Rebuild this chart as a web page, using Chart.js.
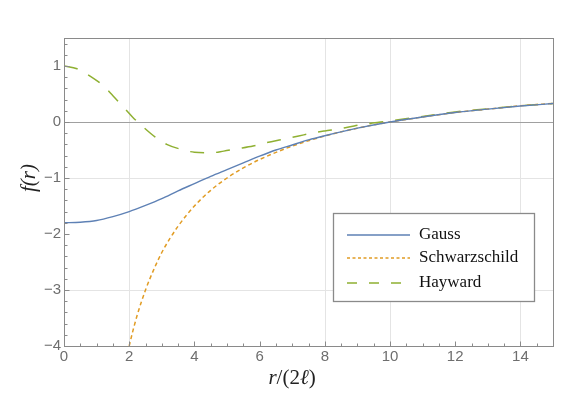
<!DOCTYPE html>
<html>
<head>
<meta charset="utf-8">
<script src="https://cdn.jsdelivr.net/npm/chart.js@4/dist/chart.umd.min.js"></script>
<style>
  html, body { margin: 0; padding: 0; background: #fff; }
  #wrap { width: 582px; height: 393px; }
</style>
</head>
<body>
<div id="wrap"><canvas id="chart" width="582" height="393"></canvas></div>
<script>
// values
const gaussX = [0, 0.5, 1, 1.5, 2, 2.5, 3, 3.5, 4, 4.5, 5, 5.5, 6, 6.5, 7, 7.5, 8, 9, 10, 11, 12, 13, 14, 15];
const gaussY = [-1.80, -1.79, -1.76, -1.69, -1.60, -1.49, -1.37, -1.23, -1.10, -0.97, -0.85, -0.73, -0.61, -0.50, -0.41, -0.32, -0.245, -0.11, 0.0, 0.09, 0.17, 0.23, 0.285, 0.33];

const schwX = [2, 2.1, 2.25, 2.5, 2.75, 3, 3.25, 3.5, 4, 4.5, 5, 5.5, 6, 7, 8, 9, 10, 11, 12, 13, 14, 15];
const schwY = [-4.0, -3.76, -3.44, -3.0, -2.64, -2.33, -2.08, -1.86, -1.5, -1.22, -1.0, -0.82, -0.67, -0.43, -0.25, -0.11, 0.0, 0.09, 0.17, 0.23, 0.29, 0.33];

const haywX = [0, 0.4, 0.8, 1.2, 1.5, 1.8, 2.1, 2.45, 2.8, 3.15, 3.6, 4.0, 4.5, 4.9, 5.3, 5.8, 6.2, 6.7, 7.2, 7.6, 8.0, 8.45, 8.9, 9.3, 9.8, 10.2, 11, 12, 13, 14, 15];
const haywY = [1.0, 0.95, 0.82, 0.65, 0.47, 0.28, 0.09, -0.10, -0.27, -0.40, -0.49, -0.54, -0.55, -0.52, -0.48, -0.43, -0.37, -0.31, -0.25, -0.20, -0.16, -0.12, -0.07, -0.03, 0.005, 0.035, 0.10, 0.18, 0.235, 0.29, 0.33];

const seriesNames = ["Gauss", "Schwarzschild", "Hayward"];

// axis ticks and grid
const xLabels = [0, 2, 4, 6, 8, 10, 12, 14];
const yLabels = [-4, -3, -2, -1, 0, 1];
const xGrid = [2, 8, 10, 14];
const yGrid = [-3, -1];

const BLUE = "#5e81b5", ORANGE = "#e19c24", GREEN = "#8fb032";
const SERIF = "'Liberation Serif', 'DejaVu Serif', serif";
const SANS = "'Liberation Sans', Arial, sans-serif";

function pts(xs, ys) {
  return xs.map((x, i) => ({ x: x, y: ys[i] }));
}

// grid lines + zero axis under the curves
const gridPlugin = {
  id: "gridPlugin",
  beforeDatasetsDraw(chart) {
    const ctx = chart.ctx, a = chart.chartArea;
    const xs = chart.scales.x, ys = chart.scales.y;
    ctx.save();
    ctx.lineWidth = 1;
    ctx.strokeStyle = "#e4e4e4";
    xGrid.forEach(v => {
      const px = Math.round(xs.getPixelForValue(v)) + 0.5;
      ctx.beginPath(); ctx.moveTo(px, a.top); ctx.lineTo(px, a.bottom); ctx.stroke();
    });
    yGrid.forEach(v => {
      const py = Math.round(ys.getPixelForValue(v)) + 0.5;
      ctx.beginPath(); ctx.moveTo(a.left, py); ctx.lineTo(a.right, py); ctx.stroke();
    });
    // y = 0 axis
    ctx.strokeStyle = "#a0a0a0";
    const py0 = Math.round(ys.getPixelForValue(0)) + 0.5;
    ctx.beginPath(); ctx.moveTo(a.left, py0); ctx.lineTo(a.right, py0); ctx.stroke();
    ctx.restore();
  }
};

// frame, inward ticks, axis titles, legend box
const framePlugin = {
  id: "framePlugin",
  afterDraw(chart) {
    const ctx = chart.ctx, a = chart.chartArea;
    const xs = chart.scales.x, ys = chart.scales.y;
    ctx.save();
    ctx.strokeStyle = "#8a8a8a";
    ctx.lineWidth = 1;
    const L = Math.round(a.left) + 0.5, R = Math.round(a.right) + 0.5;
    const T = Math.round(a.top) + 0.5, B = Math.round(a.bottom) + 0.5;
    ctx.strokeRect(L, T, R - L, B - T);

    // bottom ticks: major every 2, minor every 0.5
    for (let k = 0; k <= 30; k++) {
      const v = k * 0.5;
      const px = Math.round(xs.getPixelForValue(v)) + 0.5;
      const len = (k % 4 === 0) ? 5 : 3;
      ctx.beginPath(); ctx.moveTo(px, B); ctx.lineTo(px, B - len); ctx.stroke();
    }
    // left ticks: major every 1, minor every 0.2
    for (let k = 0; k <= 27; k++) {
      const v = -4 + k * 0.2;
      const py = Math.round(ys.getPixelForValue(v)) + 0.5;
      const len = (k % 5 === 0) ? 5 : 3;
      ctx.beginPath(); ctx.moveTo(L, py); ctx.lineTo(L + len, py); ctx.stroke();
    }

    // y title f(r)
    ctx.fillStyle = "#222";
    ctx.save();
    ctx.translate(29, 178);
    ctx.rotate(-Math.PI / 2);
    ctx.font = "italic 21px " + SERIF;
    ctx.textAlign = "center";
    ctx.textBaseline = "middle";
    ctx.fillText("f(r)", 0, 0);
    ctx.restore();

    // x title r/(2ℓ), mixed italic / roman
    const parts = [["r", true], ["/(2", false], ["ℓ", true], [")", false]];
    const fontOf = it => (it ? "italic " : "") + "21px " + SERIF;
    let w = 0;
    parts.forEach(p => { ctx.font = fontOf(p[1]); w += ctx.measureText(p[0]).width; });
    let cx = 292 - w / 2;
    ctx.textAlign = "left";
    ctx.textBaseline = "alphabetic";
    parts.forEach(p => {
      ctx.font = fontOf(p[1]);
      ctx.fillText(p[0], cx, 384);
      cx += ctx.measureText(p[0]).width;
    });

    // legend
    const bx = 333, by = 213, bw = 201, bh = 88;
    ctx.fillStyle = "#fff";
    ctx.fillRect(bx, by, bw, bh);
    ctx.strokeStyle = "#8a8a8a";
    ctx.lineWidth = 1.3;
    ctx.strokeRect(bx + 0.5, by + 0.5, bw, bh);
    const rows = [235, 258, 283];
    const legendDash = [[], [3, 2.5], [10, 12]];
    chart.data.datasets.forEach((ds, i) => {
      ctx.strokeStyle = ds.borderColor;
      ctx.lineWidth = 1.5;
      ctx.setLineDash(legendDash[i]);
      ctx.beginPath(); ctx.moveTo(347, rows[i]); ctx.lineTo(410, rows[i]); ctx.stroke();
      ctx.setLineDash([]);
      ctx.fillStyle = "#111";
      ctx.font = "17px " + SERIF;
      ctx.textBaseline = "middle";
      ctx.fillText(ds.label, 419, rows[i]);
    });
    ctx.restore();
  }
};

const fmt = v => (v < 0 ? "\u2212" + Math.abs(v) : String(v));

new Chart(document.getElementById("chart"), {
  type: "line",
  data: {
    datasets: [
      { label: seriesNames[0], data: pts(gaussX, gaussY), borderColor: BLUE, borderWidth: 1.4 },
      { label: seriesNames[1], data: pts(schwX, schwY), borderColor: ORANGE, borderWidth: 1.5, borderDash: [4, 3] },
      { label: seriesNames[2], data: pts(haywX, haywY), borderColor: GREEN, borderWidth: 1.5, borderDash: [14, 12] }
    ]
  },
  options: {
    responsive: false,
    animation: false,
    events: [],
    layout: { padding: { top: 38, right: 29, left: 0, bottom: 0 } },
    elements: {
      point: { radius: 0 },
      line: { cubicInterpolationMode: "monotone", fill: false }
    },
    plugins: { legend: { display: false }, tooltip: { enabled: false } },
    scales: {
      x: {
        type: "linear", min: 0, max: 15,
        afterFit: s => { s.height = 47; },
        afterBuildTicks: s => { s.ticks = xLabels.map(v => ({ value: v })); },
        grid: { display: false, drawTicks: false },
        border: { display: false },
        ticks: { padding: 2, color: "#6e6e6e", font: { family: SANS, size: 15 }, maxRotation: 0, callback: v => fmt(v) }
      },
      y: {
        type: "linear", min: -4, max: 1.5,
        afterFit: s => { s.width = 64; },
        afterBuildTicks: s => { s.ticks = yLabels.map(v => ({ value: v })); },
        grid: { display: false, drawTicks: false },
        border: { display: false },
        ticks: { padding: 3, color: "#6e6e6e", font: { family: SANS, size: 15 }, callback: v => fmt(v) }
      }
    }
  },
  plugins: [gridPlugin, framePlugin]
});
</script>
</body>
</html>
